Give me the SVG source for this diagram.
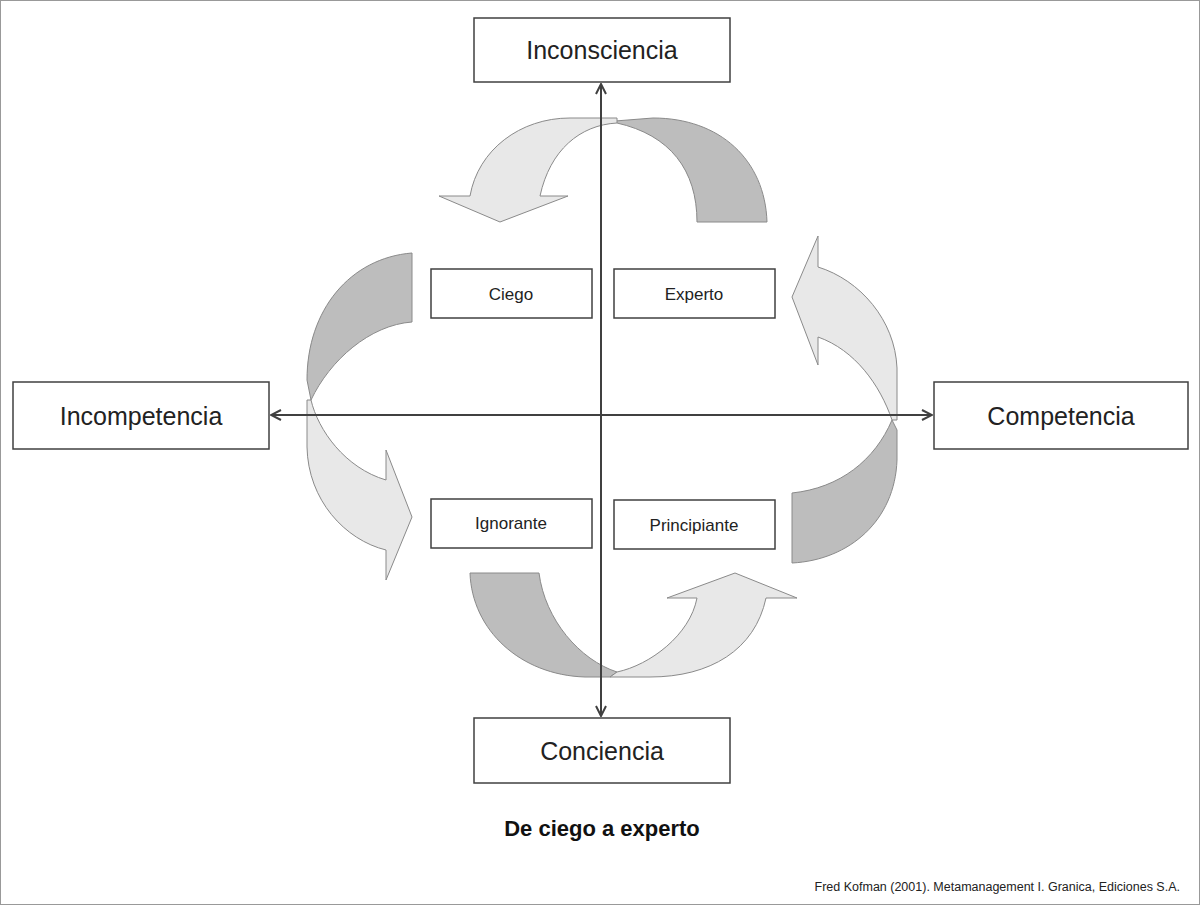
<svg xmlns="http://www.w3.org/2000/svg" width="1200" height="905" viewBox="0 0 1200 905">
<defs>
<style>
.box{fill:#fff;stroke:#404040;stroke-width:1.5}
.big{font-family:"Liberation Sans",Arial,sans-serif;font-size:25px;fill:#222;text-anchor:middle}
.sm{font-family:"Liberation Sans",Arial,sans-serif;font-size:17px;fill:#222;text-anchor:middle}
.dk{fill:#bdbdbd;stroke:#8a8a8a;stroke-width:1}
.lt{fill:#e8e8e8;stroke:#8a8a8a;stroke-width:1}
.ax{stroke:#404040;stroke-width:2;fill:none}
</style>
<marker id="ah" viewBox="0 0 12 12" refX="11" refY="6" markerWidth="12" markerHeight="12" markerUnits="userSpaceOnUse" orient="auto"><path d="M1,1 L11,6 L1,11" fill="none" stroke="#404040" stroke-width="2"/></marker>
</defs>
<rect x="0.5" y="0.5" width="1199" height="904" fill="#fff" stroke="#999"/>
<g id="connectors">
<path class="dk" d="M615,121 L653,118 C720,118 765,160 767,222 L697,222 C697,170 670,135 617,123 Z"/>
<path class="lt" d="M617,123 C580,125 550,150 540,196 L568,196 L500,222 L439,196 L470,196 C478,150 520,118 570,118 L617,118 Z"/>
<path class="dk" d="M412,253 C350,258 307,310 307,380 L311,400 C330,360 370,325 412,322 Z"/>
<path class="lt" d="M311,400 C318,430 345,468 386,480 L386,450 L412,517 L386,580 L386,550 C345,540 308,500 307,447 L307,400 Z"/>
<path class="dk" d="M792,493 C840,488 875,460 892,420 L897,430 L897,460 C895,520 850,560 792,563 Z"/>
<path class="lt" d="M892,420 C880,385 855,350 818,337 L818,365 L792,297 L818,236 L818,267 C860,280 895,320 897,368 L897,420 Z"/>
<path class="dk" d="M470,573 L539,573 C545,620 580,660 617,672 L610,677 L585,677 C520,675 472,630 470,573 Z"/>
<path class="lt" d="M617,672 C650,665 690,635 697,598 L667,598 L735,573 L797,598 L766,598 C755,650 710,677 650,677 L610,677 Z"/>
<line class="ax" x1="601" y1="415" x2="601" y2="84" marker-end="url(#ah)"/>
<line class="ax" x1="601" y1="415" x2="601" y2="716" marker-end="url(#ah)"/>
<line class="ax" x1="601" y1="415" x2="271" y2="415" marker-end="url(#ah)"/>
<line class="ax" x1="601" y1="415" x2="932" y2="415" marker-end="url(#ah)"/>
</g>
<g id="inconsciencia"><rect class="box" x="474" y="18" width="256" height="64"/><text class="big" x="602" y="59">Inconsciencia</text></g>
<g id="incompetencia"><rect class="box" x="13" y="382" width="256" height="67"/><text class="big" x="141" y="425">Incompetencia</text></g>
<g id="competencia"><rect class="box" x="934" y="382" width="254" height="67"/><text class="big" x="1061" y="425">Competencia</text></g>
<g id="conciencia"><rect class="box" x="474" y="718" width="256" height="65"/><text class="big" x="602" y="760">Conciencia</text></g>
<g id="ciego"><rect class="box" x="431" y="269" width="161" height="49"/><text class="sm" x="511" y="300">Ciego</text></g>
<g id="experto"><rect class="box" x="614" y="269" width="161" height="49"/><text class="sm" x="694" y="300">Experto</text></g>
<g id="ignorante"><rect class="box" x="431" y="499" width="161" height="49"/><text class="sm" x="511" y="529">Ignorante</text></g>
<g id="principiante"><rect class="box" x="614" y="500" width="161" height="49"/><text class="sm" x="694" y="531">Principiante</text></g>
<text x="602" y="836" font-family="'Liberation Sans',Arial,sans-serif" font-size="22" font-weight="bold" fill="#111" text-anchor="middle">De ciego a experto</text>
<text x="1180" y="891" font-family="'Liberation Sans',Arial,sans-serif" font-size="12.5" fill="#222" text-anchor="end">Fred Kofman (2001).  Metamanagement I.  Granica, Ediciones S.A.</text>
</svg>
